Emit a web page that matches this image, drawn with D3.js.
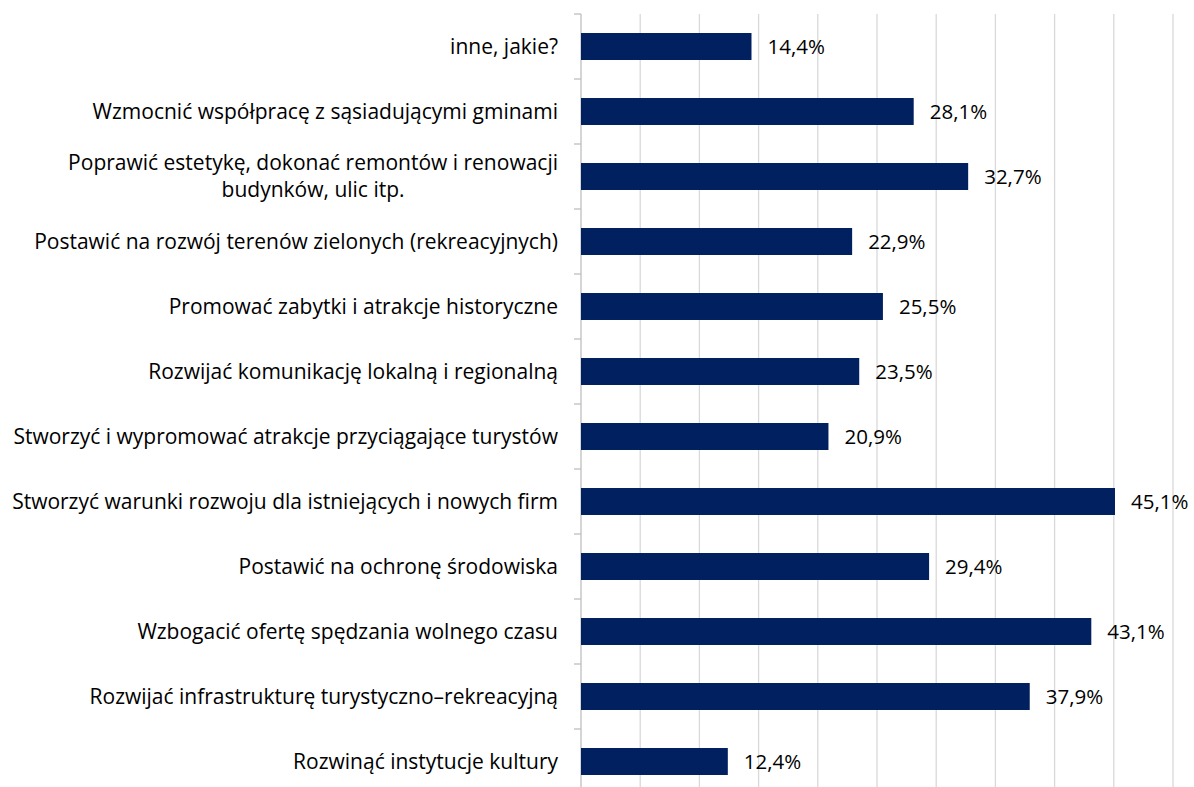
<!DOCTYPE html>
<html>
<head>
<meta charset="utf-8">
<script src="https://cdn.jsdelivr.net/npm/d3@7"></script>
<style>
  body { margin: 0; background: #fff; }
  text { font-family: "Open Sans", Lato, sans-serif; fill: #000; }
</style>
</head>
<body>
<svg id="chart" width="1194" height="787"></svg>
<script>
// categories, top to bottom
var categories = [
    "inne, jakie?",
    "Wzmocnić współpracę z sąsiadującymi gminami",
    "Poprawić estetykę, dokonać remontów i renowacji|budynków, ulic itp.",
    "Postawić na rozwój terenów zielonych (rekreacyjnych)",
    "Promować zabytki i atrakcje historyczne",
    "Rozwijać komunikację lokalną i regionalną ",
    "Stworzyć i wypromować atrakcje przyciągające turystów",
    "Stworzyć warunki rozwoju dla istniejących i nowych firm",
    "Postawić na ochronę środowiska",
    "Wzbogacić ofertę spędzania wolnego czasu",
    "Rozwijać infrastrukturę turystyczno–rekreacyjną",
    "Rozwinąć instytucje kultury"
];
var values = [14.4, 28.1, 32.7, 22.9, 25.5, 23.5, 20.9, 45.1, 29.4, 43.1, 37.9, 12.4];
var gridTicks = [0, 5, 10, 15, 20, 25, 30, 35, 40, 45, 50];

var data = categories.map(function (c, i) {
    return { name: c, value: values[i] };
});

margin = ({ top: 14, right: 21, bottom: -7, left: 581 });
width = 1194;
height = 787;

x = d3.scaleLinear()
    .domain([0, 50])
    .range([margin.left, width - margin.right]);

y = d3.scaleBand()
    .domain(d3.range(data.length))
    .range([margin.top, height - margin.bottom])
    .paddingInner(0.585)
    .paddingOuter(0.2925);

const svg = d3.select("#chart");
const fmt = v => d3.format(".1f")(v).replace(".", ",") + "%";

// gridlines
svg.append("g")
    .selectAll("line")
    .data(gridTicks.slice(1))
    .join("line")
    .attr("x1", d => x(d)).attr("x2", d => x(d))
    .attr("y1", margin.top).attr("y2", height)
    .attr("stroke", "#d9d9d9")
    .attr("stroke-width", 1.3);

// category axis (line + ticks at band boundaries)
var step = y.step();
var bounds = d3.range(data.length + 1).map(i => margin.top + i * step);
var ax = svg.append("g");
ax.append("line")
    .attr("x1", x(0)).attr("x2", x(0))
    .attr("y1", margin.top).attr("y2", height)
    .attr("stroke", "#bfbfbf").attr("stroke-width", 1.3);
ax.selectAll("line.tick")
    .data(bounds)
    .join("line")
    .attr("class", "tick")
    .attr("x1", x(0) - 7).attr("x2", x(0))
    .attr("y1", d => d).attr("y2", d => d)
    .attr("stroke", "#bfbfbf").attr("stroke-width", 1.3);

// bars
svg.append("g")
    .attr("fill", "#002060")
    .selectAll("rect")
    .data(data)
    .join("rect")
    .attr("x", x(0))
    .attr("y", (d, i) => y(i))
    .attr("width", d => x(d.value) - x(0))
    .attr("height", y.bandwidth());

// value labels
svg.append("g")
    .attr("font-size", 20.5)
    .selectAll("text")
    .data(data)
    .join("text")
    .attr("x", d => x(d.value) + 16)
    .attr("y", (d, i) => y(i) + y.bandwidth() / 2)
    .attr("dy", "0.35em")
    .text(d => fmt(d.value));

// category labels
var labels = svg.append("g").attr("font-size", 21);
data.forEach(function (d, i) {
    var lines = d.name.split("|");
    var cy = y(i) + y.bandwidth() / 2;
    var right = x(0) - 23;
    if (lines.length == 1) {
        labels.append("text")
            .attr("x", right)
            .attr("y", cy)
            .attr("dy", "0.35em")
            .attr("text-anchor", "end")
            .text(lines[0]);
    } else {
        var t = labels.append("text")
            .attr("text-anchor", "middle")
            .attr("y", cy - 13.5)
            .attr("dy", "0.35em");
        t.append("tspan").text(lines[0]);
        var w = t.node().getComputedTextLength();
        t.attr("x", right - w / 2);
        t.select("tspan").attr("x", right - w / 2);
        t.append("tspan")
            .attr("x", right - w / 2)
            .attr("dy", 27)
            .text(lines[1]);
    }
});
</script>
</body>
</html>
